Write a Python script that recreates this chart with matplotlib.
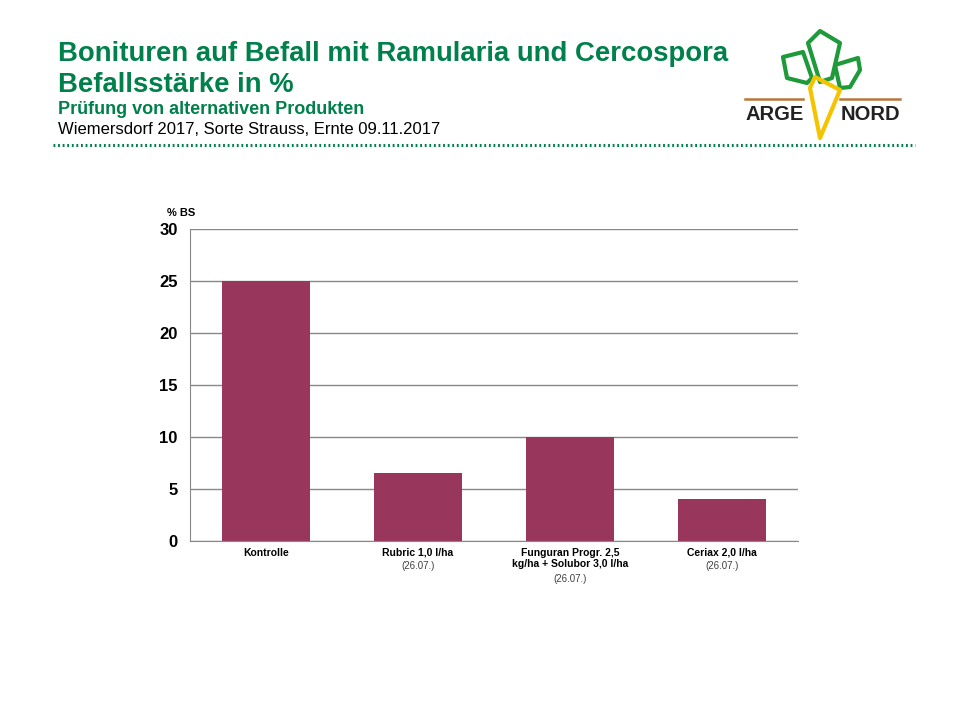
import matplotlib.pyplot as plt
from matplotlib.patches import Polygon

# chart data
categories = ["Kontrolle", "Rubric 1,0 l/ha", "Funguran Progr. 2,5\nkg/ha + Solubor 3,0 l/ha", "Ceriax 2,0 l/ha"]
dates = ["", "(26.07.)", "(26.07.)", "(26.07.)"]
befall = [25, 6.5, 10, 4]
yticks = [0, 5, 10, 15, 20, 25, 30]

GREEN = "#00804A"
BAR = "#98365B"
GRID = "#888888"

plt.rcParams['font.family'] = ['Liberation Sans', 'DejaVu Sans']

fig = plt.figure(figsize=(9.6, 7.2), dpi=100)

# header
fig.text(58 / 960, 1 - 54 / 720, "Bonituren auf Befall mit Ramularia und Cercospora",
         color=GREEN, fontsize=19.8, fontweight='bold', va='center')
fig.text(58 / 960, 1 - 85 / 720, "Befallsstärke in %",
         color=GREEN, fontsize=19.8, fontweight='bold', va='center')
fig.text(58 / 960, 1 - 109 / 720, "Prüfung von alternativen Produkten",
         color=GREEN, fontsize=13, fontweight='bold', va='center')
fig.text(58 / 960, 1 - 129 / 720, "Wiemersdorf 2017, Sorte Strauss, Ernte 09.11.2017",
         color='black', fontsize=12, va='center')
fig.add_artist(plt.Line2D([53 / 960, 915 / 960], [1 - 145 / 720, 1 - 145 / 720],
                          color=GREEN, lw=2.2, ls=(0, (0.6, 0.9))))

# logo (rough sketch)
logo = fig.add_axes([740 / 960, 1 - 150 / 720, 170 / 960, 130 / 720])
logo.set_xlim(0, 170)
logo.set_ylim(130, 0)
logo.axis('off')
leaves = [
    [(68, 23), (80, 11), (100, 23), (92, 58), (80, 62)],
    [(43, 37), (63, 32), (72, 58), (67, 63), (47, 58)],
    [(95, 45), (118, 38), (120, 50), (110, 67), (100, 68)],
]
for pts in leaves:
    logo.add_patch(Polygon(pts, closed=True, fill=False, ec="#1E9A3A", lw=3, joinstyle='round'))
logo.add_patch(Polygon([(75, 57), (100, 70), (80, 118), (70, 68)], closed=True,
                       fill=False, ec="#F5C400", lw=3, joinstyle='round'))
logo.plot([5, 63], [79, 79], color="#B8763A", lw=1.8)
logo.plot([100, 160], [79, 79], color="#B8763A", lw=1.8)
logo.text(35, 95, "ARGE", ha='center', va='center', fontsize=14.5, fontweight='bold', color="#222222")
logo.text(130, 95, "NORD", ha='center', va='center', fontsize=14.5, fontweight='bold', color="#222222")

# chart
ax = fig.add_axes([190 / 960, 1 - 541 / 720, 608 / 960, 312 / 720])
x = range(len(categories))
ax.bar(x, befall, width=0.585, color=BAR, zorder=2)
ax.set_xlim(-0.5, len(categories) - 0.5)
ax.set_ylim(0, 30)
ax.set_yticks(yticks)
ax.set_yticklabels([str(t) for t in yticks], fontsize=12, fontweight='bold')
ax.yaxis.grid(True, color=GRID, lw=1, zorder=0)
ax.tick_params(axis='y', length=0, pad=9)
ax.tick_params(axis='x', length=0)
ax.set_xticks(list(x))
ax.set_xticklabels([])
for s in ['top', 'right']:
    ax.spines[s].set_visible(False)
ax.spines['left'].set_color(GRID)
ax.spines['bottom'].set_color(GRID)

for i, (cat, d) in enumerate(zip(categories, dates)):
    ax.annotate(cat, xy=(i, 0), xycoords=('data', 'axes fraction'), xytext=(0, -5),
                textcoords='offset points', ha='center', va='top',
                fontsize=7.5, fontweight='bold', linespacing=1.15)
    n = cat.count("\n") + 1
    if d:
        ax.annotate(d, xy=(i, 0), xycoords=('data', 'axes fraction'),
                    xytext=(0, -5 - 9.2 * n), textcoords='offset points',
                    ha='center', va='top', fontsize=7, color='#404040')

fig.text(167 / 960, 1 - 213 / 720, "% BS", fontsize=8, fontweight='bold', va='center')

fig.savefig("out.png", dpi=100, facecolor='white')
